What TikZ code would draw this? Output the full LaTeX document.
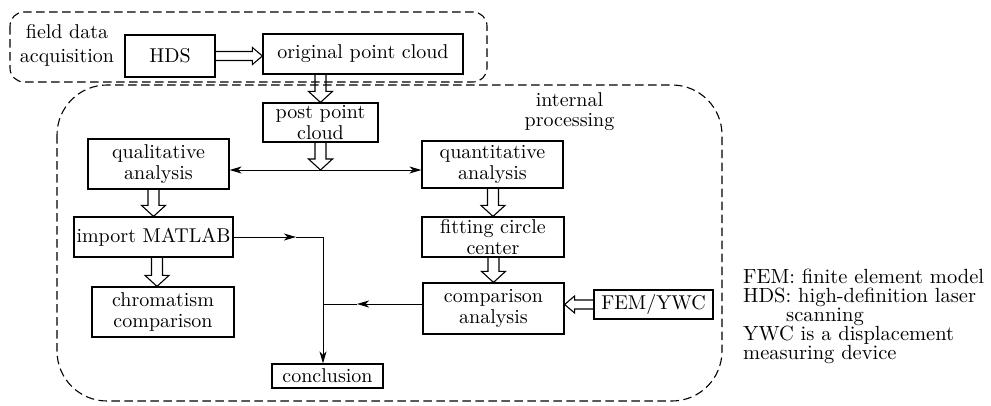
\documentclass[tikz,border=0pt]{standalone}
\usepackage{fontspec}
\setmainfont{lmroman10-regular.otf}
\usetikzlibrary{arrows.meta,calc}
\begin{document}
\begin{tikzpicture}[x=1pt,y=-1pt,
  box/.style={draw,line width=1.2pt,inner sep=0pt,align=center,
    font=\fontsize{20}{20.5}\selectfont},
  label/.style={align=center,inner sep=0pt},
  group/.style={draw,line width=1.1pt,dash pattern=on 8.5pt off 4.5pt},
  flow/.style={line width=1pt,-{Stealth[length=12pt,width=7pt,inset=3.5pt]}},
  link/.style={line width=1pt},
  % hollow block arrow: #1 half shaft width, #2 half head width, #3 head length
  hollow/.style n args={3}{line width=1.1pt,line join=miter,to path={
    let \p1=(\tikztostart), \p2=(\tikztotarget), \p3=($(\p2)!#3!(\p1)$) in
    ($(\p1)!#1!90:(\p2)$) -- ($(\p3)!#1!90:(\p2)$) -- ($(\p3)!#2!90:(\p2)$) -- (\p2)
    -- ($(\p3)!#2!-90:(\p2)$) -- ($(\p3)!#1!-90:(\p2)$) -- ($(\p1)!#1!-90:(\p2)$)}},
  vblock/.style={hollow={5.5pt}{12pt}{11pt}},
  hblock/.style={hollow={4.5pt}{8.5pt}{10pt}}
]
\useasboundingbox (0,0) rectangle (991,405);

% group frames
\draw[group,rounded corners=14pt] (10,12) rectangle (487,82);
\draw[group,rounded corners=50pt] (57,85) rectangle (722,401);

% group titles
\node[label,font=\fontsize{20}{24}\selectfont] (fda) at (67,45) {field data\\acquisition};
\node[label,font=\fontsize{20}{20}\selectfont] (ip) at (569.5,112) {internal\\processing};

% process boxes
\node[box,minimum width=90pt,minimum height=42pt] (hds) at (170,56) {HDS};
\node[box,minimum width=200pt,minimum height=40pt] (opc) at (363,54) {original point cloud};
\node[box,minimum width=115pt,minimum height=39pt] (ppc) at (320.5,122.5) {post point\\cloud};
\node[box,minimum width=141pt,minimum height=50pt] (qual) at (158.5,164) {qualitative\\analysis};
\node[box,minimum width=141pt,minimum height=47pt] (quant) at (492.5,164.5) {quantitative\\analysis};
\node[box,minimum width=159pt,minimum height=40pt] (imp) at (153.5,237) {import MATLAB};
\node[box,minimum width=142pt,minimum height=50pt] (chrom) at (163,312) {chromatism\\comparison};
\node[box,minimum width=142pt,minimum height=40pt] (fit) at (493,237) {fitting circle\\center};
\node[box,minimum width=141pt,minimum height=51pt] (comp) at (493.5,308.5) {comparison\\analysis};
\node[box,minimum width=119pt,minimum height=29pt] (fem) at (653.5,304.5) {FEM/YWC};
\node[box,minimum width=111pt,minimum height=24pt] (concl) at (327.5,376) {conclusion};

% legend
\node[anchor=north west,inner sep=0pt,align=left,
  font=\fontsize{20.5}{19.2}\selectfont] (legend) at (743,268.5)
  {FEM: finite element model\\HDS: high-definition laser\\\hspace*{43pt}scanning\\
   YWC is a displacement\\measuring device};

% junction points
\coordinate (mid) at (322,170);
\coordinate (j1) at (323,237);
\coordinate (j2) at (323,304);
\coordinate (t1) at (296,237);
\coordinate (t2) at (357,304);
\coordinate (ic) at ($(imp.south)+(3.5,0)$);

% hollow block arrows
\draw[hblock] (hds.east) to (hds.east -| opc.west);
\draw[vblock] (opc.south -| ppc.north) to (ppc.north);
\draw[vblock] (ppc.south) to (ppc.south |- mid);
\draw[vblock] (imp.north |- qual.south) to (imp.north);
\draw[vblock] (ic) to (ic |- chrom.north);
\draw[vblock] (fit.north |- quant.south) to (fit.north);
\draw[vblock] (fit.south -| comp.north) to (comp.north);
\draw[hblock] (fem.west) to (fem.west -| comp.east);

% thin connectors
\draw[link,{Stealth[length=12pt,width=7pt,inset=3.5pt]}-{Stealth[length=12pt,width=7pt,inset=3.5pt]}]
  (qual.east |- mid) -- (quant.west |- mid);
\draw[flow] (imp.east) -- (t1);
\draw[line width=0.6pt] (t1) -- (j1);
\draw[flow] (j1) -- (j1 |- concl.north);
\draw[flow] (comp.west |- j2) -- (t2);
\draw[link] (t2) -- (j2);
\end{tikzpicture}
\end{document}
